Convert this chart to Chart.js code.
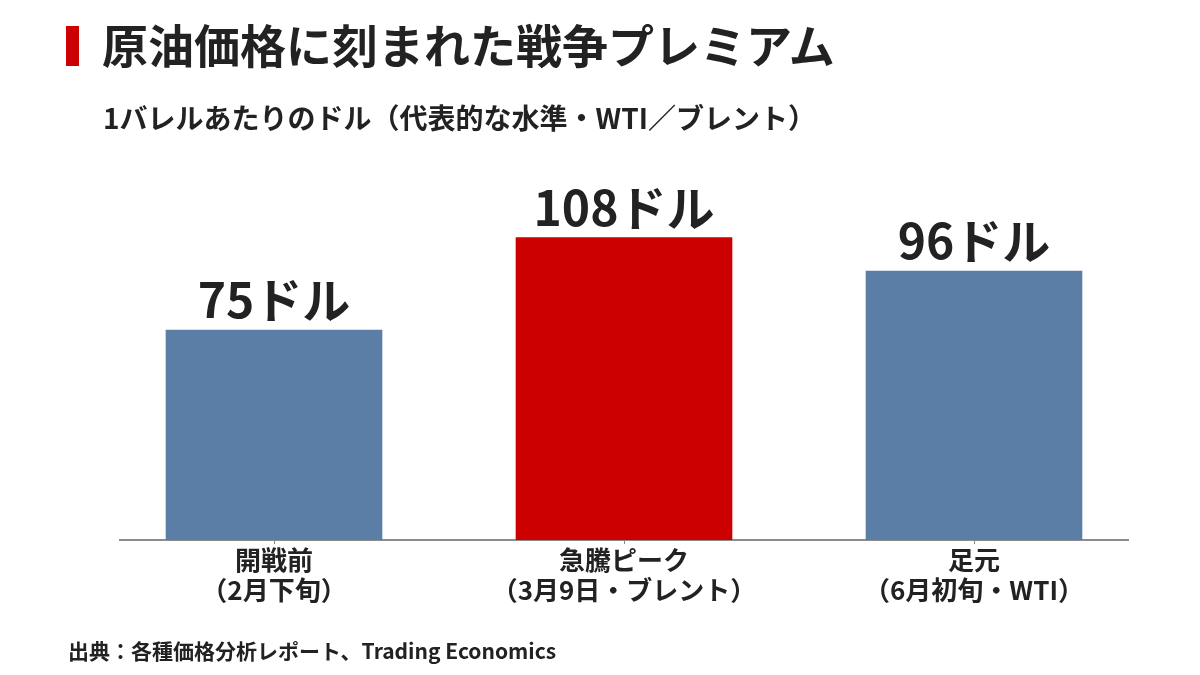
<!DOCTYPE html>
<html lang="ja">
<head>
<meta charset="utf-8">
<script src="https://cdn.jsdelivr.net/npm/chart.js@4.4.1/dist/chart.umd.min.js"></script>
<style>
  html, body { margin: 0; padding: 0; background: #ffffff; }
  body { width: 1200px; height: 675px; position: relative; overflow: hidden;
         font-family: "Noto Sans CJK JP", "Noto Sans", sans-serif; color: #222; }
  #wrap { position: absolute; left: 0; top: 0; width: 1200px; height: 675px; }
  .mark { position: absolute; left: 66px; top: 26px; width: 13px; height: 40px; background: #cc0000; }
  .title { position: absolute; left: 102px; top: 13px; font-size: 46px; font-weight: 700; line-height: 60px; white-space: nowrap; color: #222; }
  .subtitle { position: absolute; left: 103px; top: 98px; font-size: 28px; font-weight: 700; line-height: 38px; white-space: nowrap; color: #222; }
  .source { position: absolute; left: 68px; top: 636px; font-size: 21px; font-weight: 700; line-height: 28px; white-space: nowrap; color: #222; }
</style>
</head>
<body>
<div id="wrap"><canvas id="c" width="1200" height="675"></canvas></div>
<div class="mark"></div>
<div class="title">原油価格に刻まれた戦争プレミアム</div>
<div class="subtitle">1バレルあたりのドル（代表的な水準・WTI／ブレント）</div>
<div class="source">出典：各種価格分析レポート、Trading Economics</div>
<script>
const categories = [
  ["開戦前", "（2月下旬）"],
  ["急騰ピーク", "（3月9日・ブレント）"],
  ["足元", "（6月初旬・WTI）"]
];
const prices = [75, 108, 96];
const valueLabels = ["75ドル", "108ドル", "96ドル"];
const barColors = ["#5b7ea6", "#cc0000", "#5b7ea6"];

const FONT = '"Noto Sans CJK JP", "Noto Sans", sans-serif';

const valueLabelPlugin = {
  id: 'valueLabels',
  afterDatasetsDraw(chart) {
    const ctx = chart.ctx;
    const meta = chart.getDatasetMeta(0);
    ctx.save();
    ctx.font = '700 48px ' + FONT;
    ctx.fillStyle = '#222222';
    ctx.textAlign = 'center';
    ctx.textBaseline = 'alphabetic';
    meta.data.forEach((bar, i) => {
      ctx.fillText(valueLabels[i], bar.x, bar.y - 12);
    });
    ctx.restore();
  }
};

new Chart(document.getElementById('c'), {
  type: 'bar',
  data: {
    datasets: [{
      data: prices.map((v, i) => ({ x: i, y: v })),
      backgroundColor: barColors,
      borderWidth: 0,
      barThickness: 216
    }]
  },
  options: {
    responsive: false,
    animation: false,
    devicePixelRatio: 1,
    layout: { padding: { left: 120, right: 72, top: 190, bottom: 0 } },
    plugins: { legend: { display: false }, tooltip: { enabled: false }, title: { display: false } },
    scales: {
      x: {
        type: 'linear',
        offset: false,
        min: -0.44,
        max: 2.44,
        afterBuildTicks(scale) { scale.ticks = categories.map((c, i) => ({ value: i })); },
        afterFit(scale) { scale.height = 135; },
        ticks: {
          autoSkip: false,
          maxRotation: 0,
          padding: 1,
          color: '#222222',
          font: { family: FONT, size: 26, weight: 700, lineHeight: 1.15 },
          callback: (value) => categories[Math.round(value)]
        },
        grid: { display: true, offset: false, drawOnChartArea: false, drawTicks: true, tickLength: 4, color: '#888888', lineWidth: 1 },
        border: { display: true, color: '#8c8c8c', width: 2 }
      },
      y: {
        display: false,
        min: 0,
        max: 125
      }
    }
  },
  plugins: [valueLabelPlugin]
});
</script>
</body>
</html>
